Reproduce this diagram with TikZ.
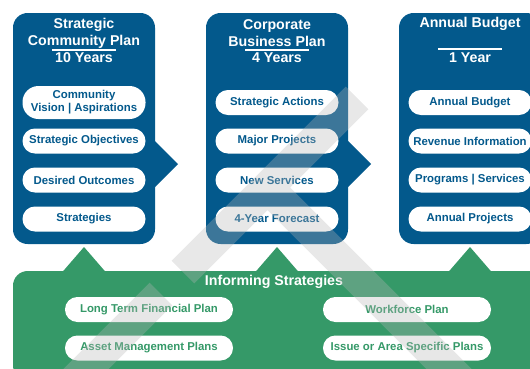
\documentclass[tikz,border=0pt]{standalone}
\usepackage{fontspec}
\setmainfont{Liberation Sans}
\usepackage{tikz}
\definecolor{planblue}{RGB}{3,89,140}
\definecolor{infogreen}{RGB}{53,153,104}
\definecolor{markgray}{RGB}{182,182,182}
\newcommand{\headfont}{\fontsize{10.65}{12.75}\selectfont\bfseries}
\newcommand{\pillfont}{\fontsize{8.55}{9.75}\selectfont\bfseries}
\tikzstyle{planbox} = [fill=planblue,rounded corners=11pt]
\tikzstyle{head} = [text=white,font=\headfont,align=center,inner sep=0pt]
\tikzstyle{pill} = [fill=white,rounded corners=9.3pt,minimum width=92.25pt,minimum height=18.75pt,inner sep=0pt,text=planblue,font=\pillfont,align=center]
\tikzstyle{greenpill} = [pill,minimum width=126pt,text=infogreen]
\tikzstyle{uparrow} = [fill=infogreen]

\begin{document}
\begin{tikzpicture}[x=0.75pt,y=-0.75pt]
\useasboundingbox (0,0) rectangle (530,368);
\fill[infogreen,rounded corners=11pt] (13,271) rectangle (548,380);
\begin{scope}[shift={(84,0)}]
\fill[planbox] (-71,13) rectangle (71,244);
\fill[planblue] (70,140) -- (94,164) -- (70,188) -- cycle;
\node[head] (scp) at (0,33) {Strategic\\Community Plan};
\draw[white,line width=0.9pt] (-32,50) -- (32,50);
\node[head] (scpyears) at (0,57.5) {10 Years};
\node[pill,minimum height=24.75pt,rounded corners=12pt] (scpvision) at (0,102.5) {Community\\Vision | Aspirations};
\node[pill] (scpobj) at (0,141) {Strategic Objectives};
\node[pill] (scpout) at (0,180) {Desired Outcomes};
\node[pill] (scpstrat) at (0,219) {Strategies};
\fill[uparrow] (-22.5,273) -- (0,247) -- (22.5,273) -- cycle;
\end{scope}
\begin{scope}[shift={(277,0)}]
\fill[planbox] (-71,13) rectangle (71,244);
\fill[planblue] (70,140) -- (94,164) -- (70,188) -- cycle;
\node[head] (cbp) at (0,33) {Corporate\\Business Plan};
\draw[white,line width=0.9pt] (-32,50) -- (32,50);
\node[head] (cbpyears) at (0,57.5) {4 Years};
\node[pill] (cbpact) at (0,102.5) {Strategic Actions};
\node[pill] (cbpproj) at (0,141) {Major Projects};
\node[pill] (cbpserv) at (0,180) {New Services};
\node[pill] (cbpfore) at (0,219) {4-Year Forecast};
\fill[uparrow] (-22.5,273) -- (0,247) -- (22.5,273) -- cycle;
\end{scope}
\begin{scope}[shift={(470,0)}]
\fill[planbox] (-71,13) rectangle (71,244);
\node[head] (ab) at (0,24) {Annual Budget};
\draw[white,line width=0.9pt] (-32,49) -- (32,49);
\node[head] (abyears) at (0,57.5) {1 Year};
\node[pill] (abbud) at (0,102.5) {Annual Budget};
\node[pill] (abrev) at (0,141) {Revenue Information};
\node[pill] (abprog) at (0,180) {Programs | Services};
\node[pill] (abproj) at (0,219) {Annual Projects};
\fill[uparrow] (-22.5,273) -- (0,247) -- (22.5,273) -- cycle;
\end{scope}
\node[head] (inform) at (274,282) {Informing Strategies};
\node[greenpill] (ltfp) at (149,309.5) {Long Term Financial Plan};
\node[greenpill] (amp) at (149,348) {Asset Management Plans};
\node[greenpill] (wfp) at (407,309.5) {Workforce Plan};
\node[greenpill] (iasp) at (407,348) {Issue or Area Specific Plans};
\fill[markgray,fill opacity=0.32]
  (171.7,260.7) -- (345.7,86.7) -- (368.3,109.3) -- (194.3,283.3) -- cycle
  (278.8,176.2) -- (531.3,428.7) -- (508.7,451.3) -- (256.2,198.8) -- cycle
  (18.7,413.7) -- (149.7,282.7) -- (172.3,305.3) -- (41.3,436.3) -- cycle;
\end{tikzpicture}
\end{document}
